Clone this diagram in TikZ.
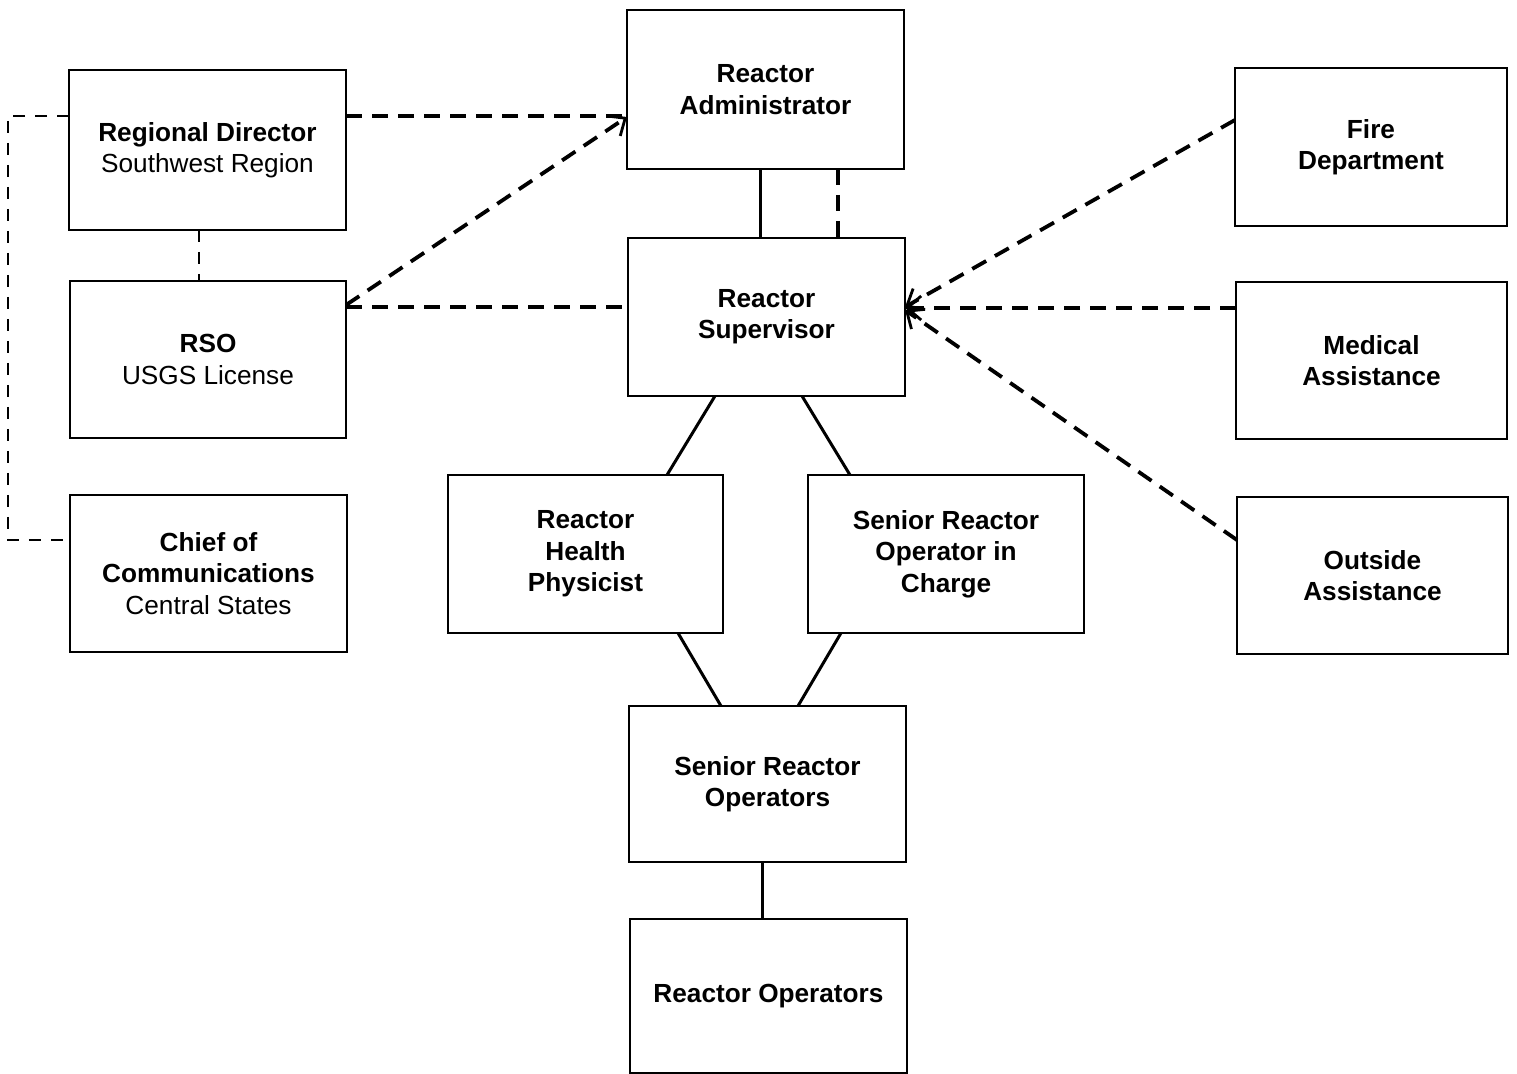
\documentclass[tikz,border=0pt]{standalone}
\usepackage{fontspec}
\setmainfont{Liberation Sans}
\usetikzlibrary{arrows.meta}
\begin{document}
\begin{tikzpicture}[x=0.5pt,y=-0.5pt,
  box/.style={draw,line width=1pt,inner sep=0pt,outer sep=0pt,align=center,
    font=\fontsize{13.1}{15.7}\selectfont\bfseries},
  solidline/.style={line width=1.5pt},
  dline/.style={line width=1.9pt,dash pattern=on 8pt off 5pt},
  thindline/.style={line width=1.2pt,dash pattern=on 6pt off 5pt},
  tip/.style={-{Straight Barb[length=7pt,width=12pt,line width=1.4pt]}}]
\useasboundingbox (0,0) rectangle (1517,1074);
\node[box,minimum width=138.5pt,minimum height=79.5pt] (adm) at (765.5,89.5) {Reactor\\Administrator};
\node[box,minimum width=138.5pt,minimum height=80pt] (rd) at (207.5,150) {Regional Director\\\mdseries Southwest Region};
\node[box,minimum width=138pt,minimum height=78.5pt] (rso) at (208,359.5) {RSO\\\mdseries USGS License};
\node[box,minimum width=138.5pt,minimum height=78.5pt] (chief) at (208.5,573.5) {Chief of\\Communications\\\mdseries Central States};
\node[box,minimum width=138.5pt,minimum height=79pt] (sup) at (766.5,317) {Reactor\\Supervisor};
\node[box,minimum width=136pt,minimum height=79pt] (fire) at (1371,147) {Fire\\Department};
\node[box,minimum width=135.5pt,minimum height=78.5pt] (med) at (1371.5,360.5) {Medical\\Assistance};
\node[box,minimum width=135.5pt,minimum height=78.5pt] (out) at (1372.5,575.5) {Outside\\Assistance};
\node[box,minimum width=137.5pt,minimum height=79pt] (hp) at (585.5,554) {Reactor\\Health\\Physicist};
\node[box,minimum width=138pt,minimum height=79pt] (sroic) at (946,554) {Senior Reactor\\Operator in\\Charge};
\node[box,minimum width=138.5pt,minimum height=78pt] (sro) at (767.5,784) {Senior Reactor\\Operators};
\node[box,minimum width=138.5pt,minimum height=77pt] (ro) at (768.5,996) {Reactor Operators};
% solid lines
\draw[solidline] (adm.south -| 760,0) -- (sup.north -| 760,0);
\draw[solidline] (sup.south -| 715,0) -- (hp.north -| 667,0);
\draw[solidline] (sup.south -| 802,0) -- (sroic.north -| 850,0);
\draw[solidline] (hp.south -| 678,0) -- (sro.north -| 721,0);
\draw[solidline] (sroic.south -| 841,0) -- (sro.north -| 798,0);
\draw[solidline] (sro.south -| 762,0) -- (ro.north -| 762,0);
% dashed lines
\draw[dline] (adm.south -| 838,0) -- (sup.north -| 838,0);
\draw[dline] (rd.east |- 0,116) -- (adm.west |- 0,116);
\draw[dline,tip] (rso.east |- 0,305) -- (adm.west |- 0,117);
\draw[dline] (rso.east |- 0,307) -- (sup.west |- 0,307);
\draw[thindline] (rd.south -| 199,0) -- (rso.north -| 199,0);
\coordinate (lt) at (8,116);
\coordinate (lb) at (8,540);
\draw[thindline] (rd.west |- lt) -- (lt) -- (lb) -- (chief.west |- lb);
\draw[dline,tip] (fire.west |- 0,120) -- (sup.east |- 0,307);
\draw[dline,tip] (med.west |- 0,308) -- (sup.east |- 0,308);
\draw[dline,tip] (out.west |- 0,540) -- (sup.east |- 0,310);
\end{tikzpicture}
\end{document}
